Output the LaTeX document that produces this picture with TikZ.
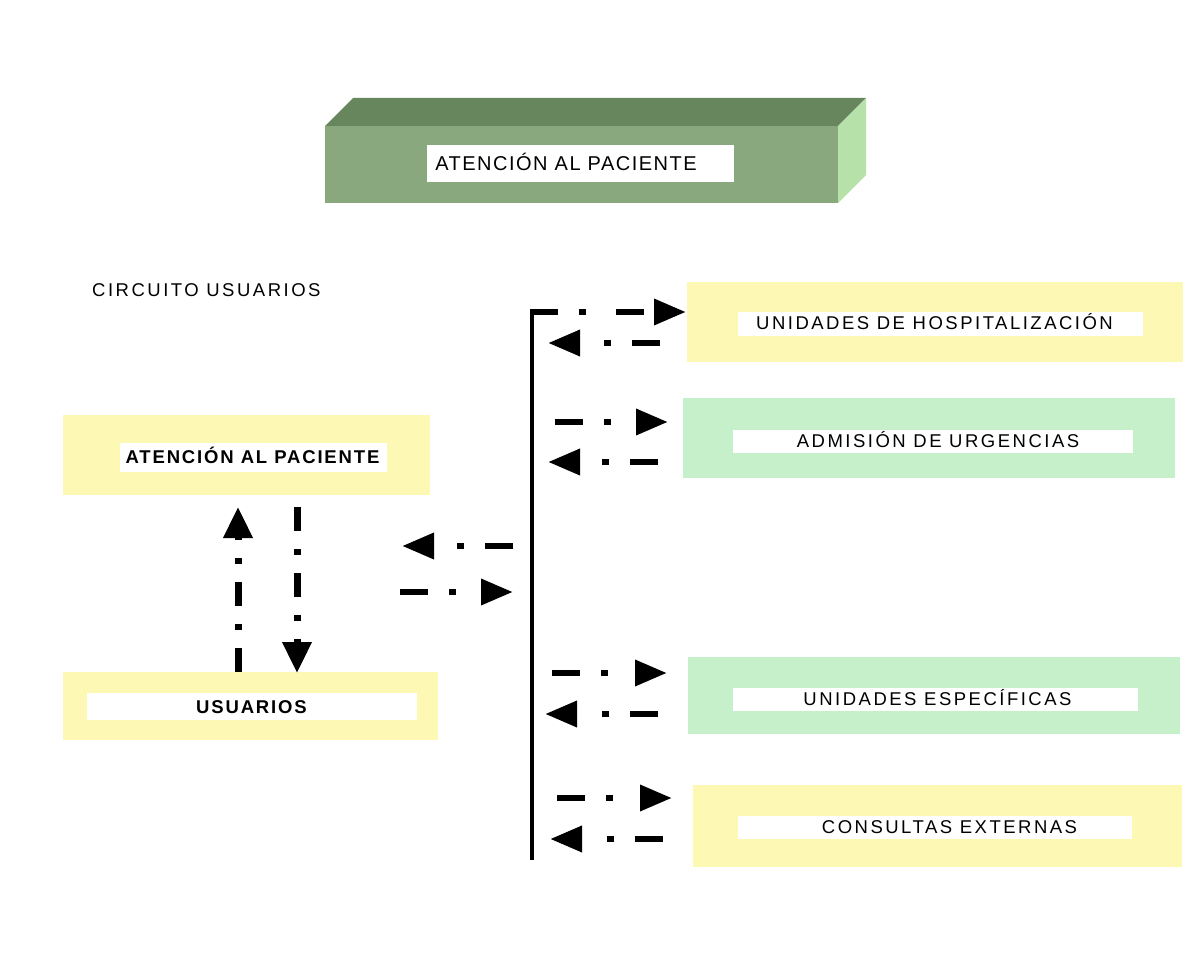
\documentclass[tikz,border=0pt]{standalone}
\usepackage{fontspec}
\setmainfont{Liberation Sans}
\usetikzlibrary{arrows.meta}
\definecolor{pyellow}{RGB}{253,249,180}
\definecolor{pgreen}{RGB}{198,240,202}
\definecolor{frontc}{RGB}{138,168,126}
\definecolor{topc}{RGB}{104,134,94}
\definecolor{sidec}{RGB}{182,226,170}
\begin{document}
\begin{tikzpicture}[x=1pt,y=-1pt,
  panel/.style={draw=none,inner sep=0pt,outer sep=0pt},
  ybox/.style={panel,fill=pyellow},
  gbox/.style={panel,fill=pgreen},
  wbox/.style={panel,fill=white},
  lbl/.style={inner sep=0pt,text height=13.2pt,text depth=0pt,
    font=\fontsize{18.5}{20}\selectfont\addfontfeature{LetterSpace=13.5}},
  blbl/.style={lbl,font=\fontsize{18.5}{20}\selectfont\bfseries\addfontfeature{LetterSpace=10}},
  tlbl/.style={inner sep=0pt,text height=14.3pt,text depth=0pt,
    font=\fontsize{20}{22}\selectfont\addfontfeature{LetterSpace=7.5}},
  flow/.style={line width=6.5pt,dash pattern=on 28pt off 21pt on 7pt off 30pt,
    -{Triangle[length=32pt,width=25pt]}},
  vflow/.style={line width=7pt,dash pattern=on 24pt off 18pt on 6pt off 18pt,
    -{Triangle[length=31pt,width=28pt]}},
  bus/.style={line width=4pt}]
\useasboundingbox (0,0) rectangle (1194,968);

% top 3D block
\node[panel,fill=frontc,minimum width=513pt,minimum height=77pt] (topbox) at (581.5,164.5) {};
\fill[topc] (topbox.north west) -- ++(28,-28) -- ++(513,0) -- (topbox.north east) -- cycle;
\fill[sidec] (topbox.north east) -- ++(28,-28) -- ++(0,77) -- (topbox.south east) -- cycle;
\node[wbox,minimum width=307pt,minimum height=37pt] (wtop) at (580.5,163.5) {};
\node[tlbl] (ttop) at (566,163) {ATENCIÓN AL PACIENTE};

% title
\node[lbl,anchor=west] (circ) at (92,290) {CIRCUITO USUARIOS};

% left boxes
\node[ybox,minimum width=367pt,minimum height=80pt] (att) at (246.5,455) {};
\node[wbox,minimum width=267pt,minimum height=29pt] (watt) at (253.5,457.5) {};
\node[blbl] (tatt) at (252.5,457) {ATENCIÓN AL PACIENTE};

\node[ybox,minimum width=375pt,minimum height=68pt] (usu) at (250.5,706) {};
\node[wbox,minimum width=330pt,minimum height=27pt] (wusu) at (252,706.5) {};
\node[blbl] (tusu) at (251.5,707) {USUARIOS};

% right boxes
\node[ybox,minimum width=496pt,minimum height=80pt] (hos) at (935,322) {};
\node[wbox,minimum width=405pt,minimum height=24pt] (whos) at (940.5,324) {};
\node[lbl] (thos) at (934.5,323) {UNIDADES DE HOSPITALIZACIÓN};

\node[gbox,minimum width=492pt,minimum height=80pt] (urg) at (929,438) {};
\node[wbox,minimum width=400pt,minimum height=23pt] (wurg) at (933,441.5) {};
\node[lbl] (turg) at (938,441) {ADMISIÓN DE URGENCIAS};

\node[gbox,minimum width=492pt,minimum height=77pt] (esp) at (934,695.5) {};
\node[wbox,minimum width=405pt,minimum height=23pt] (wesp) at (935.5,699.5) {};
\node[lbl] (tesp) at (937.5,699) {UNIDADES ESPECÍFICAS};

\node[ybox,minimum width=489pt,minimum height=82pt] (ext) at (937.5,826) {};
\node[wbox,minimum width=394pt,minimum height=23pt] (wext) at (935,827.5) {};
\node[lbl] (text) at (949.5,827) {CONSULTAS EXTERNAS};

% bus
\coordinate (busT) at (532,309);
\coordinate (busB) at (532,860);
\draw[bus] (busT) -- (busB);

% arrow end points
\coordinate (a1s) at (530,312);  \coordinate (a1e) at (686,312);
\coordinate (b1s) at (660,343);  \coordinate (b1e) at (548,343);
\coordinate (a2s) at (555,422);  \coordinate (a2e) at (668,422);
\coordinate (b2s) at (658,462);  \coordinate (b2e) at (548,462);
\coordinate (a3s) at (552,673);  \coordinate (a3e) at (667,673);
\coordinate (b3s) at (658,714);  \coordinate (b3e) at (545,714);
\coordinate (a4s) at (557,798);  \coordinate (a4e) at (672,798);
\coordinate (b4s) at (663,839);  \coordinate (b4e) at (550,839);
\coordinate (mls) at (513,546);  \coordinate (mle) at (402,546);
\coordinate (mrs) at (400,592);  \coordinate (mre) at (513,592);
\coordinate (ups) at (238,672);  \coordinate (upe) at (238,507);
\coordinate (dns) at (297,507);  \coordinate (dne) at (297,673);

\draw[flow] (a1s) -- (a1e);
\draw[flow] (b1s) -- (b1e);
\draw[flow] (a2s) -- (a2e);
\draw[flow] (b2s) -- (b2e);
\draw[flow] (a3s) -- (a3e);
\draw[flow] (b3s) -- (b3e);
\draw[flow] (a4s) -- (a4e);
\draw[flow] (b4s) -- (b4e);
\draw[flow] (mls) -- (mle);
\draw[flow] (mrs) -- (mre);
\draw[vflow] (ups) -- (upe);
\draw[vflow] (dns) -- (dne);
\end{tikzpicture}
\end{document}
